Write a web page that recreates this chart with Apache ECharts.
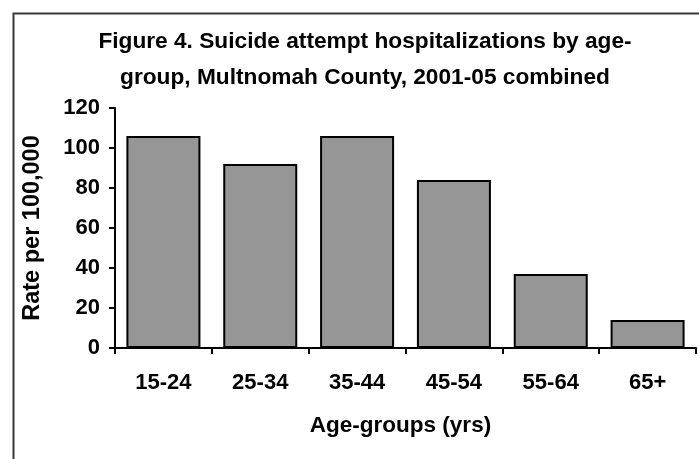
<!DOCTYPE html>
<html>
<head>
<meta charset="utf-8">
<script src="https://cdn.jsdelivr.net/npm/echarts@6/dist/echarts.min.js"></script>
<style>
html,body{margin:0;padding:0;background:#fff;}
#c{width:699px;height:459px;}
</style>
</head>
<body>
<div id="c"></div>
<script>
var categories = ['15-24', '25-34', '35-44', '45-54', '55-64', '65+'];
var rates = [106, 92, 106, 84, 37, 14];
var titleText = 'Figure 4. Suicide attempt hospitalizations by age-\ngroup, Multnomah County, 2001-05 combined';
var yName = 'Rate per 100,000';
var xName = 'Age-groups (yrs)';

var FONT = '"Liberation Sans", Arial, sans-serif';
var chart = echarts.init(document.getElementById('c'), null, {renderer: 'canvas'});
chart.setOption({
  backgroundColor: '#ffffff',
  animation: false,
  graphic: [{
    type: 'rect',
    left: 11, top: 11,
    shape: {width: 720, height: 480},
    style: {fill: 'none', stroke: '#3a3a3a', lineWidth: 2},
    silent: true,
    z: 0
  }],
  title: {
    text: titleText,
    left: 360,
    top: 19,
    textAlign: 'center',
    textStyle: {
      fontFamily: FONT, fontWeight: 'bold', fontSize: 22.7, color: '#000', lineHeight: 36
    }
  },
  grid: {left: 115, right: 3, top: 108, bottom: 111, containLabel: false},
  xAxis: {
    type: 'category',
    data: categories,
    boundaryGap: true,
    name: xName,
    nameLocation: 'middle',
    nameGap: 66,
    nameTextStyle: {fontFamily: FONT, fontWeight: 'bold', fontSize: 22.5, color: '#000', padding: [0, 10, 0, 0]},
    axisLine: {lineStyle: {color: '#000', width: 2}},
    axisTick: {show: true, length: 6, inside: false, lineStyle: {color: '#000', width: 2}},
    axisLabel: {fontFamily: FONT, fontWeight: 'bold', fontSize: 22, color: '#000', margin: 24, interval: 0},
    splitLine: {show: false}
  },
  yAxis: {
    type: 'value',
    min: 0, max: 120, interval: 20,
    name: yName,
    nameLocation: 'middle',
    nameRotate: 90,
    nameGap: 70,
    nameTextStyle: {fontFamily: FONT, fontWeight: 'bold', fontSize: 23.5, color: '#000'},
    axisLine: {show: true, lineStyle: {color: '#000', width: 2}},
    axisTick: {show: true, length: 6, inside: false, lineStyle: {color: '#000', width: 2}},
    axisLabel: {fontFamily: FONT, fontWeight: 'bold', fontSize: 22, color: '#000', margin: 15},
    splitLine: {show: false}
  },
  series: [{
    type: 'bar',
    data: rates,
    barWidth: 74,
    itemStyle: {color: '#969696', borderColor: '#000', borderWidth: 2},
    z: 2
  }]
});
</script>
</body>
</html>
